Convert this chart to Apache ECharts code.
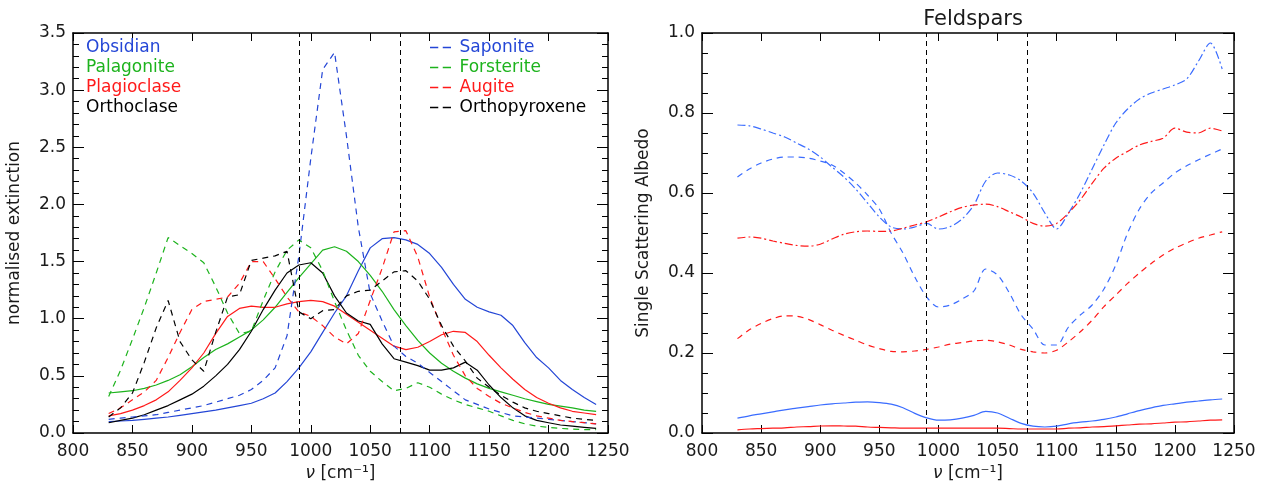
<!DOCTYPE html>
<html>
<head>
<meta charset="utf-8">
<script src="https://cdn.jsdelivr.net/npm/echarts@6/dist/echarts.min.js"></script>
<style>html,body{margin:0;padding:0;background:#fff}#c{width:1268px;height:491px}</style>
</head>
<body>
<div id="c"></div>
<script>
// wavenumber grid (cm^-1)
const nu = [830,840,850,860,870,880,890,900,910,920,930,940,950,960,970,980,990,1000,1010,1020,1030,1040,1050,1060,1070,1080,1090,1100,1110,1120,1130,1140,1150,1160,1170,1180,1190,1200,1210,1220,1230,1240];
const markers = [990, 1075];

// Left panel: normalised extinction
const obsidian    = [0.10,0.105,0.11,0.12,0.13,0.14,0.155,0.17,0.185,0.20,0.22,0.24,0.26,0.30,0.35,0.45,0.57,0.71,0.88,1.05,1.20,1.42,1.62,1.70,1.71,1.69,1.65,1.57,1.45,1.30,1.17,1.10,1.06,1.03,0.94,0.79,0.66,0.57,0.46,0.38,0.31,0.25];
const palagonite  = [0.35,0.36,0.37,0.39,0.42,0.46,0.51,0.58,0.66,0.73,0.78,0.84,0.90,0.99,1.10,1.23,1.36,1.48,1.60,1.63,1.59,1.50,1.38,1.24,1.08,0.94,0.81,0.70,0.61,0.54,0.48,0.43,0.39,0.36,0.33,0.30,0.275,0.25,0.235,0.22,0.20,0.19];
const plagioclase = [0.15,0.17,0.20,0.24,0.29,0.36,0.46,0.57,0.70,0.87,1.02,1.09,1.11,1.10,1.10,1.13,1.15,1.16,1.15,1.11,1.04,0.97,0.90,0.83,0.76,0.73,0.75,0.80,0.86,0.89,0.88,0.80,0.68,0.57,0.47,0.38,0.31,0.26,0.22,0.19,0.175,0.16];
const orthoclase  = [0.09,0.11,0.13,0.16,0.20,0.24,0.29,0.34,0.41,0.50,0.60,0.73,0.89,1.08,1.25,1.40,1.47,1.49,1.40,1.20,1.05,0.98,0.95,0.78,0.65,0.62,0.59,0.55,0.55,0.57,0.62,0.55,0.42,0.31,0.22,0.15,0.11,0.09,0.07,0.06,0.05,0.04];
const saponite    = [0.12,0.13,0.14,0.15,0.16,0.18,0.20,0.22,0.24,0.27,0.30,0.33,0.38,0.46,0.57,0.85,1.55,2.40,3.18,3.33,2.60,1.80,1.22,0.98,0.76,0.67,0.61,0.53,0.45,0.37,0.29,0.25,0.21,0.18,0.15,0.14,0.13,0.12,0.11,0.10,0.09,0.08];
const forsterite  = [0.32,0.55,0.82,1.10,1.40,1.71,1.64,1.57,1.49,1.28,1.05,0.87,0.89,1.16,1.41,1.60,1.69,1.62,1.42,1.15,0.90,0.68,0.54,0.45,0.37,0.39,0.44,0.40,0.34,0.29,0.25,0.22,0.19,0.15,0.11,0.08,0.06,0.05,0.04,0.035,0.03,0.03];
const augite      = [0.17,0.22,0.29,0.36,0.46,0.66,0.88,1.08,1.15,1.17,1.19,1.31,1.50,1.50,1.35,1.19,1.06,1.02,0.94,0.84,0.78,0.87,1.16,1.44,1.76,1.77,1.54,1.19,0.92,0.68,0.50,0.39,0.32,0.26,0.22,0.18,0.15,0.13,0.11,0.10,0.09,0.08];
const orthopyroxene = [0.14,0.22,0.35,0.62,0.92,1.16,0.80,0.64,0.54,0.88,1.19,1.21,1.51,1.53,1.55,1.59,1.06,1.00,1.07,1.08,1.20,1.24,1.25,1.33,1.41,1.42,1.33,1.17,0.94,0.76,0.63,0.48,0.40,0.33,0.27,0.22,0.19,0.17,0.15,0.13,0.12,0.11];

// Right panel: Feldspars single scattering albedo
const blueDashDot = [0.77,0.768,0.76,0.75,0.74,0.725,0.71,0.69,0.665,0.64,0.61,0.575,0.54,0.515,0.51,0.515,0.524,0.51,0.516,0.535,0.57,0.63,0.65,0.645,0.63,0.60,0.55,0.51,0.55,0.60,0.66,0.72,0.775,0.81,0.835,0.85,0.86,0.87,0.885,0.93,0.975,0.91];
const blueDashed  = [0.64,0.66,0.675,0.685,0.69,0.69,0.687,0.68,0.67,0.65,0.625,0.595,0.56,0.50,0.45,0.39,0.34,0.315,0.32,0.335,0.355,0.41,0.395,0.35,0.295,0.26,0.22,0.22,0.265,0.295,0.32,0.36,0.42,0.50,0.56,0.60,0.625,0.65,0.668,0.683,0.697,0.71];
const redDashDot  = [0.487,0.49,0.487,0.48,0.474,0.469,0.467,0.472,0.485,0.497,0.503,0.505,0.504,0.505,0.512,0.52,0.528,0.54,0.553,0.564,0.57,0.572,0.566,0.553,0.54,0.524,0.517,0.524,0.55,0.583,0.624,0.662,0.687,0.704,0.72,0.729,0.737,0.762,0.752,0.75,0.762,0.755];
const redDashed   = [0.236,0.258,0.274,0.286,0.293,0.292,0.284,0.271,0.257,0.244,0.232,0.22,0.211,0.204,0.203,0.205,0.209,0.215,0.222,0.226,0.23,0.232,0.228,0.22,0.209,0.203,0.2,0.207,0.228,0.253,0.282,0.316,0.345,0.374,0.40,0.424,0.445,0.462,0.475,0.487,0.495,0.503];
const blueSolid   = [0.037,0.043,0.048,0.053,0.058,0.062,0.066,0.07,0.073,0.075,0.077,0.078,0.076,0.072,0.063,0.049,0.038,0.032,0.033,0.037,0.044,0.054,0.05,0.037,0.024,0.017,0.015,0.017,0.023,0.027,0.03,0.034,0.04,0.048,0.056,0.063,0.069,0.073,0.077,0.08,0.083,0.085];
const redSolid    = [0.008,0.01,0.011,0.012,0.013,0.015,0.016,0.0175,0.018,0.0175,0.017,0.015,0.014,0.013,0.012,0.012,0.012,0.012,0.012,0.012,0.012,0.012,0.012,0.011,0.01,0.01,0.01,0.01,0.012,0.013,0.015,0.016,0.018,0.02,0.022,0.023,0.025,0.027,0.028,0.03,0.032,0.033];

const leftXTicks = {min:800, max:1250, interval:50};
const leftYTicks = {min:0, max:3.5, interval:0.5};
const rightYTicks = {min:0, max:1.0, interval:0.2};

const FONT = "'DejaVu Sans', sans-serif";
const TXT = '#1a1a1a';
const BLUE = '#2446d6', GREEN = '#1db31d', RED = '#ff1a1a', BLACK = '#000000';
const LBLUE = '#3a6cff';
const DASH = [6,5], DASHDOT = [8,3,2,3];
const DASH_ICON = 'path://M0,0h11v2H0z M17,0h11v2H17z';

function pairs(vals){ return nu.map((x,i)=>[x, vals[i]]); }
function line(name, vals, color, type, gi, smooth){
  return {
    name, type:'line', xAxisIndex: gi*2, yAxisIndex: gi*2, data: pairs(vals),
    showSymbol:false, symbol:'none', smooth: smooth||false,
    lineStyle:{color, width:1.2, type}, itemStyle:{color}, z:3
  };
}
function vlines(){
  return {silent:true, symbol:'none', label:{show:false},
    lineStyle:{color:'#000', type:[5,4], width:1},
    data: markers.map(m=>({xAxis:m}))};
}

function xAxes(gi){
  const base = {gridIndex:gi, type:'value', min:leftXTicks.min, max:leftXTicks.max, interval:leftXTicks.interval,
    axisLine:{show:true, onZero:false, lineStyle:{color:'#000', width:1.5}},
    axisTick:{show:true, inside:true, length:8, lineStyle:{color:'#000', width:1}},
    splitLine:{show:false}};
  return [
    Object.assign({}, base, {position:'bottom',
      axisLabel:{show:true, fontSize:17, color:TXT, fontFamily:FONT, margin:10, formatter:v=>String(v)},
      name:'{i|ν} [cm⁻¹]', nameLocation:'middle', nameGap:28,
      nameTextStyle:{fontSize:17, color:TXT, fontFamily:FONT, rich:{i:{fontStyle:'italic', fontSize:17, fontFamily:FONT, color:TXT}}}}),
    Object.assign({}, base, {position:'top', axisLabel:{show:false}})
  ];
}
function yAxes(gi, ticks, minorSplit, name){
  const base = {gridIndex:gi, type:'value', min:ticks.min, max:ticks.max, interval:ticks.interval,
    axisLine:{show:true, onZero:false, lineStyle:{color:'#000', width:1.5}},
    axisTick:{show:true, inside:true, length:11, lineStyle:{color:'#000', width:1}},
    minorTick:{show:true, splitNumber:minorSplit, length:6, lineStyle:{color:'#000', width:1}},
    splitLine:{show:false}, minorSplitLine:{show:false}};
  return [
    Object.assign({}, base, {position:'left',
      axisLabel:{show:true, fontSize:17, color:TXT, fontFamily:FONT, margin:7, formatter:v=>v.toFixed(1)},
      name, nameLocation:'middle', nameGap:50, nameRotate:90,
      nameTextStyle:{fontSize:17, color:TXT, fontFamily:FONT}}),
    Object.assign({}, base, {position:'right', axisLabel:{show:false}})
  ];
}

const leftSeries = [
  line('Obsidian', obsidian, BLUE, 'solid', 0),
  line('Palagonite', palagonite, GREEN, 'solid', 0),
  line('Plagioclase', plagioclase, RED, 'solid', 0),
  line('Orthoclase', orthoclase, BLACK, 'solid', 0),
  line('Saponite', saponite, BLUE, DASH, 0),
  line('Forsterite', forsterite, GREEN, DASH, 0),
  line('Augite', augite, RED, DASH, 0),
  line('Orthopyroxene', orthopyroxene, BLACK, DASH, 0)
];
leftSeries[0].markLine = vlines();

const rightSeries = [
  line('Feldspar blue dash-dot', blueDashDot, LBLUE, DASHDOT, 1, 0.3),
  line('Feldspar blue dashed', blueDashed, LBLUE, DASH, 1, 0.3),
  line('Feldspar red dash-dot', redDashDot, RED, DASHDOT, 1, 0.3),
  line('Feldspar red dashed', redDashed, RED, DASH, 1, 0.3),
  line('Feldspar blue solid', blueSolid, LBLUE, 'solid', 1, 0.3),
  line('Feldspar red solid', redSolid, RED, 'solid', 1, 0.3)
];
rightSeries[0].markLine = vlines();

const leftNames = ['Obsidian','Palagonite','Plagioclase','Orthoclase'];
const leftColors = [BLUE, GREEN, RED, BLACK];
const dashNames = ['Saponite','Forsterite','Augite','Orthopyroxene'];

const chart = echarts.init(document.getElementById('c'), null, {renderer:'canvas'});
chart.setOption({
  animation:false,
  backgroundColor:'#fff',
  title:{text:'Feldspars', left:968, top:4, textAlign:'center',
    textStyle:{fontSize:21, fontWeight:'normal', color:TXT, fontFamily:FONT}},
  grid:[
    {left:73, right:660, top:33, bottom:58},
    {left:702, right:34, top:33, bottom:58}
  ],
  legend:[
    {left:76, top:34, orient:'vertical', itemGap:3, itemWidth:0, itemHeight:0, icon:'rect', selectedMode:false,
     textStyle:{fontSize:17, fontFamily:FONT},
     data:leftNames.map((n,i)=>({name:n, textStyle:{color:leftColors[i]}}))},
    {left:425, top:34, orient:'vertical', itemGap:3, itemWidth:28, itemHeight:1.5, selectedMode:false,
     icon: DASH_ICON,
     textStyle:{fontSize:17, fontFamily:FONT},
     data:dashNames.map((n,i)=>({name:n, icon: DASH_ICON, itemStyle:{color:leftColors[i]}, textStyle:{color:leftColors[i]}}))}
  ],
  xAxis:[...xAxes(0), ...xAxes(1)],
  yAxis:[...yAxes(0, leftYTicks, 5, 'normalised extinction'), ...yAxes(1, rightYTicks, 4, 'Single Scattering Albedo')],
  series:[...leftSeries, ...rightSeries]
});
</script>
</body>
</html>
